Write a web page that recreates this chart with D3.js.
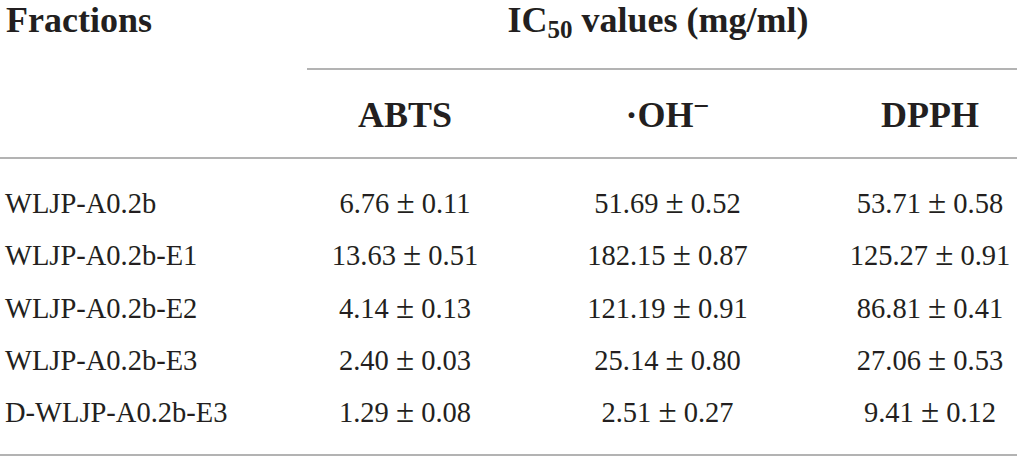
<!DOCTYPE html>
<html>
<head>
<meta charset="utf-8">
<script src="https://cdn.jsdelivr.net/npm/d3@7"></script>
<style>
  html, body { margin: 0; padding: 0; background: #fff; }
  svg { display: block; }
  .tbl text { font-family: "Liberation Serif", "Times New Roman", serif; fill: #231f20; }
  .tbl .head { font-weight: 700; font-size: 36px; }
  .tbl .cell { font-size: 28.5px; }
  .tbl .pm { font-size: 33px; }
  .tbl line { stroke: #9a9a9a; stroke-width: 1.6; }
</style>
</head>
<body>
<svg id="chart" width="1017" height="460"></svg>
<script>
const fractions = ['WLJP-A0.2b', 'WLJP-A0.2b-E1', 'WLJP-A0.2b-E2', 'WLJP-A0.2b-E3', 'D-WLJP-A0.2b-E3'];
const assays = ['ABTS', 'OH', 'DPPH'];
const abtsMean = [6.76, 13.63, 4.14, 2.40, 1.29];
const abtsSd = [0.11, 0.51, 0.13, 0.03, 0.08];
const ohMean = [51.69, 182.15, 121.19, 25.14, 2.51];
const ohSd = [0.52, 0.87, 0.91, 0.80, 0.27];
const dpphMean = [53.71, 125.27, 86.81, 27.06, 9.41];
const dpphSd = [0.58, 0.91, 0.41, 0.53, 0.12];

const width = 1017;

const svg = d3.select('#chart');
const g = svg.append('g').attr('class', 'tbl');

const x = d3.scalePoint().domain(assays).range([405, 930]);
const y = d3.scalePoint().domain(fractions).range([213, 422]);

const fmt = d3.format('.2f');
const cells = [];
fractions.forEach((f, i) => {
  cells.push({ f, col: 'ABTS', m: abtsMean[i], s: abtsSd[i] });
  cells.push({ f, col: 'OH', m: ohMean[i], s: ohSd[i] });
  cells.push({ f, col: 'DPPH', m: dpphMean[i], s: dpphSd[i] });
});

// rules
g.append('line').attr('x1', 307).attr('x2', width).attr('y1', 69).attr('y2', 69);
g.append('line').attr('x1', 0).attr('x2', width).attr('y1', 158).attr('y2', 158);
g.append('line').attr('x1', 0).attr('x2', width).attr('y1', 455).attr('y2', 455);

// header row 1
g.append('text').attr('class', 'head').attr('x', 6).attr('y', 32).text('Fractions');

const ic = g.append('text')
  .attr('class', 'head')
  .attr('x', 658)
  .attr('y', 32)
  .attr('text-anchor', 'middle');
ic.append('tspan').text('IC');
ic.append('tspan').attr('font-size', 25).attr('dy', 6).text('50');
ic.append('tspan').attr('dy', -6).text(' values (mg/ml)');

// header row 2
g.selectAll('text.sub')
  .data(assays)
  .join('text')
  .attr('class', 'head sub')
  .attr('x', (d) => x(d))
  .attr('y', 127)
  .attr('text-anchor', 'middle')
  .each(function (d) {
    const t = d3.select(this);
    if (d === 'OH') {
      t.append('tspan').text('\u00b7OH');
      t.append('tspan').attr('font-size', 28).attr('dy', -12).text('\u2212');
    } else {
      t.text(d);
    }
  });

// row labels
g.selectAll('text.rowlab')
  .data(fractions)
  .join('text')
  .attr('class', 'cell rowlab')
  .attr('x', 5)
  .attr('y', (d) => y(d))
  .text((d) => d);

// values
g.selectAll('text.val')
  .data(cells)
  .join('text')
  .attr('class', 'cell val')
  .attr('x', (d) => x(d.col))
  .attr('y', (d) => y(d.f))
  .attr('text-anchor', 'middle')
  .each(function (d) {
    const t = d3.select(this);
    t.append('tspan').text(`${fmt(d.m)} `);
    t.append('tspan').attr('class', 'pm').text('\u00b1');
    t.append('tspan').text(` ${fmt(d.s)}`);
  });
</script>
</body>
</html>
